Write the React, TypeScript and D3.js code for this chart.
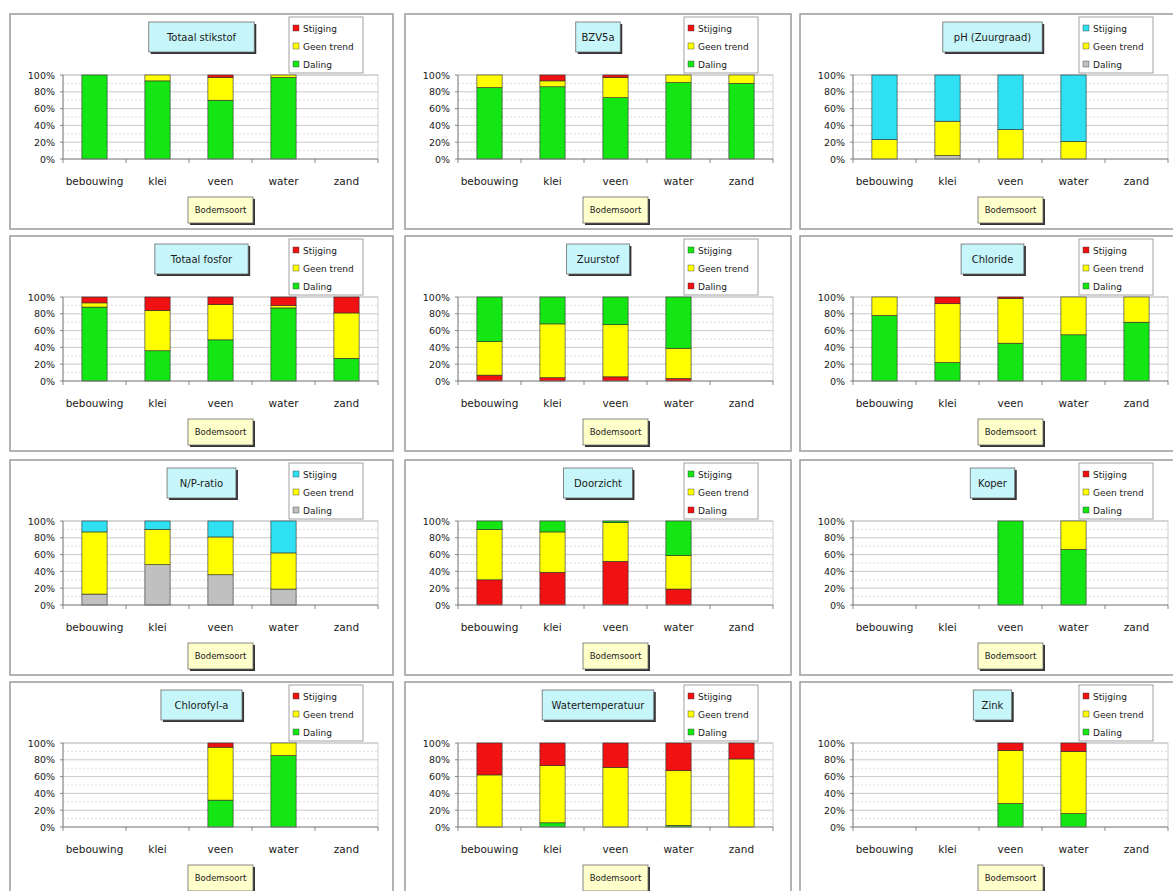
import * as d3 from 'd3';

const CATEGORIES = ['bebouwing', 'klei', 'veen', 'water', 'zand'];
const LEGEND_LABELS = ['Stijging', 'Geen trend', 'Daling'];
const Y_TICKS = [0, 20, 40, 60, 80, 100];
const AXIS_TITLE = 'Bodemsoort';

// percentages per bodemsoort: daling (bottom), geen trend, stijging (top)
const totaalStikstof = { daling: [100, 93, 70, 97, 0], geen: [0, 7, 27, 3, 0], stijging: [0, 0, 3, 0, 0] };
const bzv5a = { daling: [85, 86, 73, 91, 90], geen: [15, 7, 24, 9, 10], stijging: [0, 7, 3, 0, 0] };
const ph = { daling: [0, 4, 0, 0, 0], geen: [23, 41, 35, 21, 0], stijging: [77, 55, 65, 79, 0] };
const totaalFosfor = { daling: [88, 36, 49, 87, 27], geen: [5, 48, 42, 3, 54], stijging: [7, 16, 9, 10, 19] };
const zuurstof = { daling: [7, 4, 5, 3, 0], geen: [40, 64, 62, 36, 0], stijging: [53, 32, 33, 61, 0] };
const chloride = { daling: [78, 22, 45, 55, 70], geen: [22, 70, 53, 45, 30], stijging: [0, 8, 2, 0, 0] };
const npRatio = { daling: [13, 48, 36, 19, 0], geen: [74, 42, 45, 43, 0], stijging: [13, 10, 19, 38, 0] };
const doorzicht = { daling: [30, 39, 52, 19, 0], geen: [60, 48, 46, 40, 0], stijging: [10, 13, 2, 41, 0] };
const koper = { daling: [0, 0, 100, 66, 0], geen: [0, 0, 0, 34, 0], stijging: [0, 0, 0, 0, 0] };
const chlorofyl = { daling: [0, 0, 32, 85, 0], geen: [0, 0, 63, 15, 0], stijging: [0, 0, 5, 0, 0] };
const watertemperatuur = { daling: [0, 5, 0, 2, 0], geen: [62, 68, 71, 65, 81], stijging: [38, 27, 29, 33, 19] };
const zink = { daling: [0, 0, 28, 16, 0], geen: [0, 0, 63, 74, 0], stijging: [0, 0, 9, 10, 0] };

const COLORS = { rood: '#f01212', geel: '#ffff00', groen: '#14e614', cyaan: '#2ee0f2', grijs: '#c0c0c0' };

const SCHEMES: Record<string, Record<string, string>> = {
    standaard: { stijging: COLORS.rood, geen: COLORS.geel, daling: COLORS.groen },
    omgekeerd: { stijging: COLORS.groen, geen: COLORS.geel, daling: COLORS.rood },
    zuur: { stijging: COLORS.cyaan, geen: COLORS.geel, daling: COLORS.grijs },
};

const CHARTS = [
    { title: 'Totaal stikstof', data: totaalStikstof, scheme: 'standaard' },
    { title: 'BZV5a', data: bzv5a, scheme: 'standaard' },
    { title: 'pH (Zuurgraad)', data: ph, scheme: 'zuur' },
    { title: 'Totaal fosfor', data: totaalFosfor, scheme: 'standaard' },
    { title: 'Zuurstof', data: zuurstof, scheme: 'omgekeerd' },
    { title: 'Chloride', data: chloride, scheme: 'standaard' },
    { title: 'N/P-ratio', data: npRatio, scheme: 'zuur' },
    { title: 'Doorzicht', data: doorzicht, scheme: 'omgekeerd' },
    { title: 'Koper', data: koper, scheme: 'standaard' },
    { title: 'Chlorofyl-a', data: chlorofyl, scheme: 'standaard' },
    { title: 'Watertemperatuur', data: watertemperatuur, scheme: 'standaard' },
    { title: 'Zink', data: zink, scheme: 'standaard' },
];

const COL_X = [10, 405, 800];
const COL_W = [383, 386, 385];
const ROW_Y = [14, 236, 460, 682];
const PANEL_H = 215;

const FONT = '"Comic Sans MS", "DejaVu Sans", sans-serif';
const KEYS = ['daling', 'geen', 'stijging'];

type Chart = (typeof CHARTS)[number];

function Panel({ chart, x, y, w }: { chart: Chart; x: number; y: number; w: number }) {
    const plotLeft = 53;
    const plotTop = 61;
    const plotW = 315;
    const plotH = 84;

    const xs = d3.scaleBand().domain(CATEGORIES).range([0, plotW]).paddingInner(0.6).paddingOuter(0.3);
    const ys = d3.scaleLinear().domain([0, 100]).range([plotH, 0]);
    const colors = SCHEMES[chart.scheme];

    const rows = CATEGORIES.map((c, i) => ({
        cat: c,
        daling: chart.data.daling[i],
        geen: chart.data.geen[i],
        stijging: chart.data.stijging[i],
    }));
    const stacked = d3.stack<any>().keys(KEYS)(rows);

    const titleW = chart.title.length * 6.1 + 14;
    const titleCx = w / 2;
    const step = xs.step();
    const boundaries = d3.range(CATEGORIES.length + 1).map(i => i * step);
    const minorTicks = ys.ticks(10).filter(t => t % 20 !== 0);

    const legendKeys = ['stijging', 'geen', 'daling'];

    return (
        <g transform={`translate(${x},${y})`}>
            <rect x={0} y={0} width={w} height={PANEL_H} fill="#fff" stroke="#9a9a9a" strokeWidth={1.5} />

            {/* title */}
            <rect x={titleCx - titleW / 2 + 2} y={10} width={titleW} height={30} fill="#333" />
            <rect x={titleCx - titleW / 2} y={8} width={titleW} height={30} fill="#c6f6fa" stroke="#6a6a6a" strokeWidth={0.8} />
            <text x={titleCx} y={27} textAnchor="middle" fontFamily={FONT} fontSize={10} fill="#1a1a1a">
                {chart.title}
            </text>

            {/* legend */}
            <g transform="translate(279,3)">
                <rect width={74} height={56} fill="#fff" stroke="#8a8a8a" strokeWidth={0.8} />
                {legendKeys.map((k, i) => (
                    <g key={k} transform={`translate(4,${11 + i * 18})`}>
                        <rect x={0} y={-3} width={6} height={6} fill={colors[k]} stroke="#333" strokeWidth={0.4} />
                        <text x={10} y={3.5} fontFamily={FONT} fontSize={9} fill="#1a1a1a">{LEGEND_LABELS[i]}</text>
                    </g>
                ))}
            </g>

            {/* plot area */}
            <g transform={`translate(${plotLeft},${plotTop})`}>
                <rect width={plotW} height={plotH} fill="#fff" stroke="#c4c4c4" strokeWidth={0.8} />
                {minorTicks.map(t => (
                    <line key={`m${t}`} x1={0} x2={plotW} y1={ys(t)} y2={ys(t)} stroke="#cfcfcf" strokeWidth={0.7} strokeDasharray="2,2" />
                ))}
                {Y_TICKS.filter(t => t > 0).map(t => (
                    <line key={`g${t}`} x1={0} x2={plotW} y1={ys(t)} y2={ys(t)} stroke="#bdbdbd" strokeWidth={0.8} />
                ))}

                {stacked.map(layer => (
                    <g key={layer.key}>
                        {layer.map((d, i) => {
                            const h = ys(d[0]) - ys(d[1]);
                            if (!(h > 0)) return null;
                            return (
                                <rect
                                    key={i}
                                    x={xs(CATEGORIES[i])}
                                    y={ys(d[1])}
                                    width={xs.bandwidth()}
                                    height={h}
                                    fill={colors[layer.key]}
                                    stroke="#2a2a2a"
                                    strokeWidth={0.6}
                                />
                            );
                        })}
                    </g>
                ))}

                {/* axes */}
                <line x1={0} x2={0} y1={0} y2={plotH} stroke="#7a7a7a" strokeWidth={0.9} />
                <line x1={0} x2={plotW} y1={plotH} y2={plotH} stroke="#7a7a7a" strokeWidth={0.9} />
                {Y_TICKS.map(t => (
                    <g key={`y${t}`}>
                        <line x1={-3} x2={0} y1={ys(t)} y2={ys(t)} stroke="#7a7a7a" strokeWidth={0.9} />
                        <text x={-8} y={ys(t) + 3.5} textAnchor="end" fontFamily={FONT} fontSize={9.5} fill="#1a1a1a">
                            {`${t}%`}
                        </text>
                    </g>
                ))}
                {boundaries.map((b, i) => (
                    <line key={`b${i}`} x1={b} x2={b} y1={plotH} y2={plotH + 4} stroke="#7a7a7a" strokeWidth={0.9} />
                ))}
                {CATEGORIES.map(c => (
                    <text key={c} x={xs(c)! + xs.bandwidth() / 2} y={110} textAnchor="middle" fontFamily={FONT} fontSize={10.5} fill="#1a1a1a">
                        {c}
                    </text>
                ))}
            </g>

            {/* axis title */}
            <rect x={plotLeft + plotW / 2 - 32.5 + 2} y={185} width={65} height={26} fill="#333" />
            <rect x={plotLeft + plotW / 2 - 32.5} y={183} width={65} height={26} fill="#ffffcc" stroke="#6a6a6a" strokeWidth={0.8} />
            <text x={plotLeft + plotW / 2} y={199} textAnchor="middle" fontFamily={FONT} fontSize={8.5} fill="#1a1a1a">
                {AXIS_TITLE}
            </text>
        </g>
    );
}

export default function App() {
    return (
        <svg
            width={1173}
            height={891}
            style={{ position: 'absolute', left: 0, top: 0, background: '#fff' }}
        >
            {CHARTS.map((chart, i) => {
                const col = i % 3;
                const row = Math.floor(i / 3);
                return <Panel key={chart.title} chart={chart} x={COL_X[col]} y={ROW_Y[row]} w={COL_W[col]} />;
            })}
        </svg>
    );
}
